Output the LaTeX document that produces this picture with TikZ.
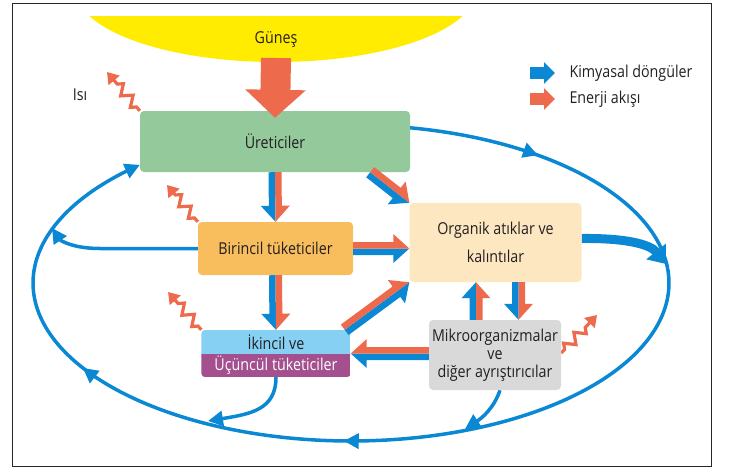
\documentclass[tikz,border=0pt]{standalone}
\usepackage{fontspec}
\setmainfont{Open Sans}[FakeStretch=0.87]
\usetikzlibrary{arrows.meta}
\usetikzlibrary{calc}
\usetikzlibrary{decorations.pathmorphing,decorations.markings}
\usepackage{xcolor}

\definecolor{chemblue}{HTML}{0A88D4}
\definecolor{heatred}{HTML}{EE6A4C}
\definecolor{sunyellow}{HTML}{FFEC00}
\definecolor{prodgreen}{HTML}{93C99B}
\definecolor{primorange}{HTML}{F8BD5D}
\definecolor{seclblue}{HTML}{86D0F3}
\definecolor{tertpurple}{HTML}{A4508F}
\definecolor{wastecream}{HTML}{FDE7C1}
\definecolor{decompgray}{HTML}{D9D9D9}
\definecolor{textdark}{HTML}{231F20}

\newcommand{\labelfont}{\fontsize{16.4}{20}\selectfont}

\begin{document}
\begin{tikzpicture}[x=1pt, y=-1pt,
        every node/.style={font=\labelfont, text=textdark},
        level/.style={rounded corners=4pt, inner sep=0pt, align=center},
        chemline/.style={chemblue, line width=3.5pt},
        chemtip/.style={-{Triangle[length=15pt,width=15pt]}},
        ringtips/.style={postaction={decorate}, decoration={markings,
            mark=at position 0.104 with {\arrow{Triangle[length=15pt,width=15pt]}},
            mark=at position 0.568 with {\arrow{Triangle[length=15pt,width=15pt]}},
            mark=at position 0.786 with {\arrow{Triangle[length=15pt,width=15pt]}}}},
        heat/.style={heatred, line width=3.2pt, decorate,
            decoration={zigzag, amplitude=5pt, segment length=15pt, pre length=5pt, post length=10pt},
            -{Triangle[length=11pt,width=14pt]}}]
        \useasboundingbox (0,0) rectangle (734,467);

        % sun
        \begin{scope}
            \clip (12,16) rectangle (711,466);
            \fill[sunyellow] (276,-10) ellipse [x radius=200, y radius=72];
        \end{scope}
        \node (sun) at (276,39) {Güneş};
        \coordinate (sunbase) at (276,58);
        \node (heatlabel) at (80,95) {Isı};

        % legend
        \node[anchor=west] (keychem) at (566,73) {Kimyasal döngüler};
        \node[anchor=west] (keyheat) at (566,99) {Enerji akışı};
        \draw[chemblue, line width=12pt, -{Triangle[length=11pt,width=21pt]}] ($(keychem.west)+(-36,0)$) -- ($(keychem.west)+(-11,0)$);
        \draw[heatred, line width=12pt, -{Triangle[length=11pt,width=21pt]}] ($(keyheat.west)+(-36,0)$) -- ($(keyheat.west)+(-11,0)$);

        \node[level, minimum width=270pt, minimum height=61pt] (ure) at (275,141.5) {};
        \node[level, minimum width=155pt, minimum height=53pt] (bir) at (275.5,248.5) {};
        \node[level, minimum width=149pt, minimum height=47pt] (ik) at (276,353.5) {};
        \node[level, minimum width=172pt, minimum height=79pt] (org) at (495.5,242.5) {};
        \node[level, minimum width=132pt, minimum height=70pt] (mik) at (495,355) {};

        % points on the big ring
        \coordinate (ringbir) at (52,228);
        \coordinate (ringik) at (208,421);
        \coordinate (ringmik) at (465,429);
        \coordinate (ringorg) at (666,264);

        % chemical cycles
        \draw[chemline, chemtip, ringtips] plot[domain=-79.3:228.4, samples=120, smooth] ({351+318*cos(\x)},{283+158*sin(\x)});
        \draw[chemline, chemtip] (bir.west) -- (100,248.5) .. controls (72,248.5) and (60,240) .. (ringbir);
        \draw[chemline, chemtip] (ik.south) .. controls (276,410) and (250,414) .. (ringik);
        \draw[chemline, chemtip] ($(mik.south)+(5,0)$) .. controls (494,408) and (482,418) .. (ringmik);
        \draw[chemblue, line width=9pt, -{Triangle[length=16pt,width=24pt]}] ($(org.east)+(0,-4)$) .. controls (625,238) and (650,244) .. (ringorg);

        % heat loss
        \draw[heat] (ure.north west) -- (107,72);
        \draw[heat] (bir.north west) -- (167,185);
        \draw[heat] (ik.north west) -- (168,292);
        \draw[heat] ($(mik.east)+(0,-2)$) -- (597,315);

        % boxes
        \node[level, fill=prodgreen, minimum width=270pt, minimum height=61pt] (ure) at (275,141.5) {Üreticiler};
        \node[level, fill=primorange, minimum width=155pt, minimum height=53pt] (bir) at (275.5,248.5) {Birincil tüketiciler};
        \begin{scope}
            \clip[rounded corners=4pt] (ik.south west) rectangle (ik.north east);
            \fill[tertpurple] (ik.south west) rectangle (ik.east);
            \fill[seclblue] (ik.west) rectangle (ik.north east);
        \end{scope}
        \node (ikup) at (276,342) {İkincil ve};
        \node[text=white] (iklow) at (276,365.5) {Üçüncül tüketiciler};
        \node[level, fill=wastecream, minimum width=172pt, minimum height=79pt] (org) at (495.5,242.5) {Organik atıklar ve\\[8pt]kalıntılar};
        \node[level, fill=decompgray, minimum width=132pt, minimum height=70pt, font=\fontsize{16.4}{18}\selectfont] (mik) at (495,355) {Mikroorganizmalar\\ve\\diğer ayrıştırıcılar};

        \coordinate (birorg) at (org.west |- bir.east);
        \coordinate (ureorg) at ($(ure.south east)+(-40,0)$);
        \coordinate (ikorg) at ($(ik.north east)+(-6,0)$);
        \coordinate (mikik) at (mik.west |- ik.east);
        \coordinate (mikup) at ($(mik.north)+(-19,0)$);
        \coordinate (orgup) at (mikup |- org.south);
        \coordinate (orgdown) at ($(org.south)+(23,0)$);
        \coordinate (mikdown) at (orgdown |- mik.north);

        % paired arrows: blue half and red half
        \foreach \src/\dst/\side in {ure.south/bir.north/-90, bir.south/ik.north/-90, bir.east/birorg/-90, ureorg/org.north west/-90, ikorg/org.south west/-90, mikik/ik.east/90, mikup/orgup/90, orgdown/mikdown/-90}{
            \pgfmathtruncatemacro{\flip}{-\side}
            \coordinate (h) at ($(\dst)!16pt!(\src)$);
            \fill[chemblue] (\src) -- ($(\src)!6.5pt!\side:(\dst)$) -- ($(h)!6.5pt!\side:(\dst)$) -- ($(h)!14.5pt!\side:(\dst)$) -- (\dst) -- cycle;
            \fill[heatred] (\src) -- ($(\src)!6.5pt!\flip:(\dst)$) -- ($(h)!6.5pt!\flip:(\dst)$) -- ($(h)!14.5pt!\flip:(\dst)$) -- (\dst) -- cycle;
        }

        \draw[heatred, line width=30pt, -{Triangle[length=28pt,width=59pt]}] (sunbase) -- ($(ure.north)+(0,7)$);

        \draw[line width=1pt, black!85] (12,3) rectangle (711,466);
    \end{tikzpicture}
\end{document}
